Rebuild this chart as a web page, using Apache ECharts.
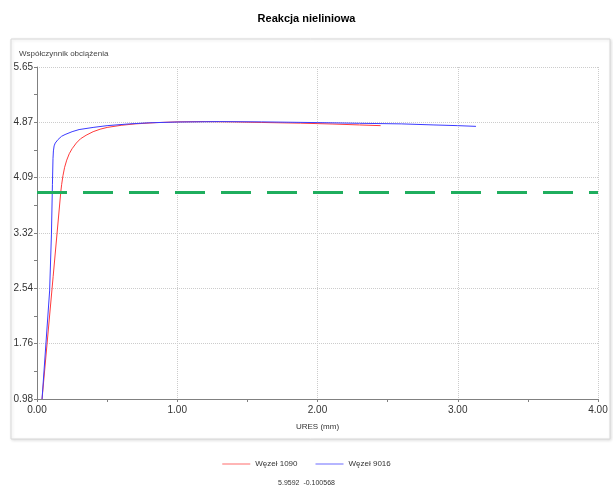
<!DOCTYPE html>
<html>
<head>
<meta charset="utf-8">
<script src="https://cdn.jsdelivr.net/npm/echarts@6/dist/echarts.min.js"></script>
<style>html,body{margin:0;padding:0;background:#fff}#c{width:613px;height:488px}</style>
</head>
<body>
<div id="c"></div>
<script>
const titleText = 'Reakcja nieliniowa';
const yAxisName = 'Współczynnik obciążenia';
const xAxisName = 'URES (mm)';
const footerText = '5.9592  -0.100568';
const seriesNames = ['Węzeł 1090', 'Węzeł 9016'];
const yMin = 0.98, yStep = 0.77834, yMax = 5.65004;
const xMin = 0, xMax = 4, xStep = 1;
const limitValue = 3.89;

const node1090 = [
  [0.036,0.98],[0.115,2.70],[0.17,3.90],[0.176,4.0],[0.185,4.12],[0.197,4.24],[0.212,4.34],
  [0.23,4.43],[0.25,4.50],[0.28,4.58],[0.31,4.64],[0.35,4.69],[0.40,4.74],[0.45,4.775],
  [0.50,4.80],[0.60,4.83],[0.70,4.85],[0.85,4.868],[1.0,4.878],[1.2,4.882],[1.4,4.878],
  [1.6,4.87],[1.88,4.86],[2.11,4.848],[2.3,4.835],[2.45,4.825]
];
const node9016 = [
  [0.036,0.98],[0.09,2.50],[0.103,3.30],[0.110,4.00],[0.114,4.36],[0.117,4.47],[0.122,4.54],[0.13,4.58],
  [0.15,4.63],[0.175,4.675],[0.20,4.70],[0.25,4.74],[0.30,4.77],[0.40,4.80],[0.50,4.825],
  [0.66,4.85],[0.80,4.865],[1.0,4.876],[1.3,4.882],[1.6,4.878],[2.0,4.868],[2.3,4.858],
  [2.6,4.85],[2.83,4.835],[3.0,4.825],[3.13,4.815]
];

const chart = echarts.init(document.getElementById('c'), null, {renderer:'canvas'});
const font = 'Liberation Sans, Arial, sans-serif';
chart.setOption({
  backgroundColor:'#fff',
  animation:false,
  textStyle:{fontFamily:font},
  graphic:[{type:'rect', z:-10, silent:true,
    shape:{x:11,y:39,width:599,height:400},
    style:{fill:'#fff', stroke:'#d8d8d8', lineWidth:1, shadowBlur:3, shadowColor:'rgba(0,0,0,0.12)', shadowOffsetX:1, shadowOffsetY:1}}],
  title:[
    {text:titleText, left:'center', top:8, textStyle:{fontFamily:font, fontSize:11, fontWeight:'bold', color:'#000'}},
    {text:yAxisName, left:14, top:45, textStyle:{fontFamily:font, fontSize:8, fontWeight:'normal', color:'#444'}},
    {text:footerText, left:'center', top:475, textStyle:{fontFamily:font, fontSize:7, fontWeight:'normal', color:'#333'}}
  ],
  legend:{
    data:seriesNames.map(n=>({name:n, icon:'rect'})), left:'center', top:455, itemWidth:28, itemHeight:1, itemGap:18,
    textStyle:{fontFamily:font, fontSize:8, color:'#333'}
  },
  grid:{left:37, right:15, top:67, bottom:89, containLabel:false},
  xAxis:{
    type:'value', min:xMin, max:xMax, interval:xStep,
    name:xAxisName, nameLocation:'middle', nameGap:24,
    nameTextStyle:{fontFamily:font, fontSize:8, color:'#333'},
    axisLine:{show:true, lineStyle:{color:'#808080', width:1}},
    axisTick:{show:true, length:3, lineStyle:{color:'#808080'}},
    minorTick:{show:true, splitNumber:2, length:3, lineStyle:{color:'#808080'}},
    axisLabel:{fontFamily:font, fontSize:10, color:'#333', margin:6, formatter:v=>v.toFixed(2)},
    splitLine:{show:true, lineStyle:{color:'#cccccc', type:'dotted', width:1}}
  },
  yAxis:{
    type:'value', min:yMin, max:yMax, interval:yStep,
    axisLine:{show:true, lineStyle:{color:'#808080', width:1}},
    axisTick:{show:true, length:3, lineStyle:{color:'#808080'}},
    minorTick:{show:true, splitNumber:2, length:3, lineStyle:{color:'#808080'}},
    axisLabel:{fontFamily:font, fontSize:10, color:'#333', margin:4, formatter:v=>v.toFixed(2)},
    splitLine:{show:true, lineStyle:{color:'#cccccc', type:'dotted', width:1}}
  },
  series:[
    {name:seriesNames[0], type:'line', data:node1090, symbol:'none', smooth:false,
     lineStyle:{color:'#ff3b3b', width:1}, itemStyle:{color:'#ff6a6a'},
     markLine:{silent:true, symbol:'none', label:{show:false},
       lineStyle:{color:'#1fae5e', width:3, type:[30,16]},
       data:[{yAxis:limitValue}]}},
    {name:seriesNames[1], type:'line', data:node9016, symbol:'none', smooth:false,
     lineStyle:{color:'#3b3bff', width:1}, itemStyle:{color:'#6a6aff'}}
  ]
});
</script>
</body>
</html>
